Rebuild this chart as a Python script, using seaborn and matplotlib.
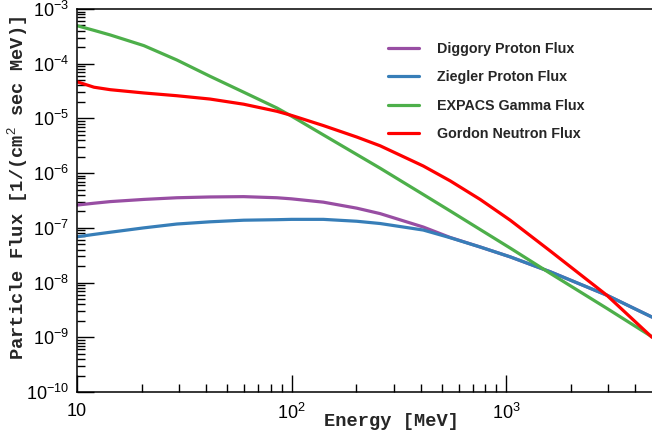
import numpy as np
import pandas as pd
import matplotlib
matplotlib.use("Agg")
import matplotlib.pyplot as plt
import seaborn as sns

# ---- data ----
energy_mev = [10, 12, 14.3, 20.5, 29.2, 41.7, 59.8, 85.5, 100, 140.6, 201.4,
              258.8, 411.2, 548.3, 756.8, 1045, 1603, 2944, 4786]
diggory_proton = [2.61e-7, 2.82e-7, 3.02e-7, 3.31e-7, 3.55e-7, 3.67e-7, 3.72e-7,
                  3.55e-7, 3.39e-7, 2.95e-7, 2.29e-7, 1.82e-7, 1.035e-7, 6.68e-8,
                  4.47e-8, 2.95e-8, 1.58e-8, 5.89e-9, 2.34e-9]
ziegler_proton = [6.87e-8, 7.59e-8, 8.32e-8, 1.0e-7, 1.175e-7, 1.29e-7, 1.38e-7,
                  1.41e-7, 1.43e-7, 1.43e-7, 1.32e-7, 1.20e-7, 9.12e-8, 6.61e-8,
                  4.47e-8, 2.95e-8, 1.58e-8, 5.89e-9, 2.34e-9]
expacs_gamma = [4.95e-4, 4.07e-4, 3.35e-4, 2.14e-4, 1.17e-4, 5.89e-5, 3.02e-5,
                1.55e-5, 1.10e-5, 5.01e-6, 2.19e-6, 1.23e-6, 4.07e-7, 2.04e-7,
                9.33e-8, 4.27e-8, 1.48e-8, 3.39e-9, 1.02e-9]
gordon_neutron = [4.68e-5, 3.72e-5, 3.35e-5, 2.92e-5, 2.60e-5, 2.26e-5, 1.82e-5,
                  1.35e-5, 1.135e-5, 7.41e-6, 4.57e-6, 3.16e-6, 1.35e-6, 7.24e-7,
                  3.31e-7, 1.38e-7, 3.80e-8, 5.89e-9, 1.0e-9]
series_names = ["Diggory Proton Flux", "Ziegler Proton Flux",
                "EXPACS Gamma Flux", "Gordon Neutron Flux"]
series_colors = ["#984ea3", "#377eb8", "#4daf4a", "#ff0000"]
x_tick_values = [10, 100, 1000]
x_tick_labels = ["10", "$10^{2}$", "$10^{3}$"]
y_tick_exps = [-10, -9, -8, -7, -6, -5, -4, -3]

frames = []
for name, vals in zip(series_names,
                      [diggory_proton, ziegler_proton, expacs_gamma, gordon_neutron]):
    frames.append(pd.DataFrame({"Energy": energy_mev, "Flux": vals, "Series": name}))
df = pd.concat(frames, ignore_index=True)

sns.set_style("ticks")
plt.rcParams["font.family"] = ["Liberation Sans", "DejaVu Sans"]
plt.rcParams["mathtext.fontset"] = "custom"
plt.rcParams["mathtext.rm"] = "Liberation Sans"
plt.rcParams["mathtext.it"] = "Liberation Sans"
plt.rcParams["mathtext.bf"] = "Liberation Sans:bold"

fig = plt.figure(figsize=(6.52, 4.38), dpi=100)
ax = fig.add_axes([77 / 652, 46 / 438, 575 / 652, 383 / 438])

sns.lineplot(data=df, x="Energy", y="Flux", hue="Series",
             palette=dict(zip(series_names, series_colors)),
             hue_order=series_names, estimator=None, sort=False,
             linewidth=2.3, ax=ax)

ax.set_xscale("log")
ax.set_yscale("log")
ax.set_xlim(10, 4786)
ax.set_ylim(1e-10, 1e-3)

ax.set_xticks(x_tick_values)
ax.set_xticklabels(x_tick_labels)
ax.set_yticks([10.0 ** e for e in y_tick_exps])
ax.set_yticklabels(["$10^{%d}$" % e for e in y_tick_exps])
ax.xaxis.set_minor_locator(matplotlib.ticker.LogLocator(base=10, subs=np.arange(2, 10), numticks=20))
ax.yaxis.set_minor_locator(matplotlib.ticker.LogLocator(base=10, subs=np.arange(2, 10), numticks=20))
ax.xaxis.set_minor_formatter(matplotlib.ticker.NullFormatter())
ax.yaxis.set_minor_formatter(matplotlib.ticker.NullFormatter())

ax.tick_params(which="both", direction="in", top=False, right=False,
               colors="black", width=1.0)
ax.tick_params(which="major", length=12, labelsize=13)
ax.tick_params(axis="x", which="major", pad=8)
ax.tick_params(axis="y", which="major", pad=6)
ax.tick_params(which="minor", length=6)

for s in ["left", "bottom", "top"]:
    ax.spines[s].set_linewidth(1.1)
    ax.spines[s].set_color("black")
ax.spines["right"].set_visible(False)

ax.set_xlabel("Energy [MeV]", family=["Liberation Mono", "DejaVu Sans Mono"],
              fontsize=13.5, fontweight="bold")
ax.set_ylabel("Particle Flux [1/(cm$^{2}$ sec MeV)]",
              family=["Liberation Mono", "DejaVu Sans Mono"],
              fontsize=13.5, fontweight="bold")
ax.xaxis.set_label_coords((392 - 77) / 575, -0.056)
ax.yaxis.set_label_coords(-0.081, (392 - 188) / 383)

leg = ax.legend(loc="upper left", bbox_to_anchor=(388 / 652, 1 - 42 / 438),
                bbox_transform=fig.transFigure, frameon=False,
                prop={"family": "Liberation Sans", "weight": "bold", "size": 10.3},
                borderpad=0, borderaxespad=0, handlelength=2.2,
                handletextpad=1.2, labelspacing=1.0)
for line in leg.get_lines():
    line.set_linewidth(2.3)

fig.savefig("out.png", dpi=100)
